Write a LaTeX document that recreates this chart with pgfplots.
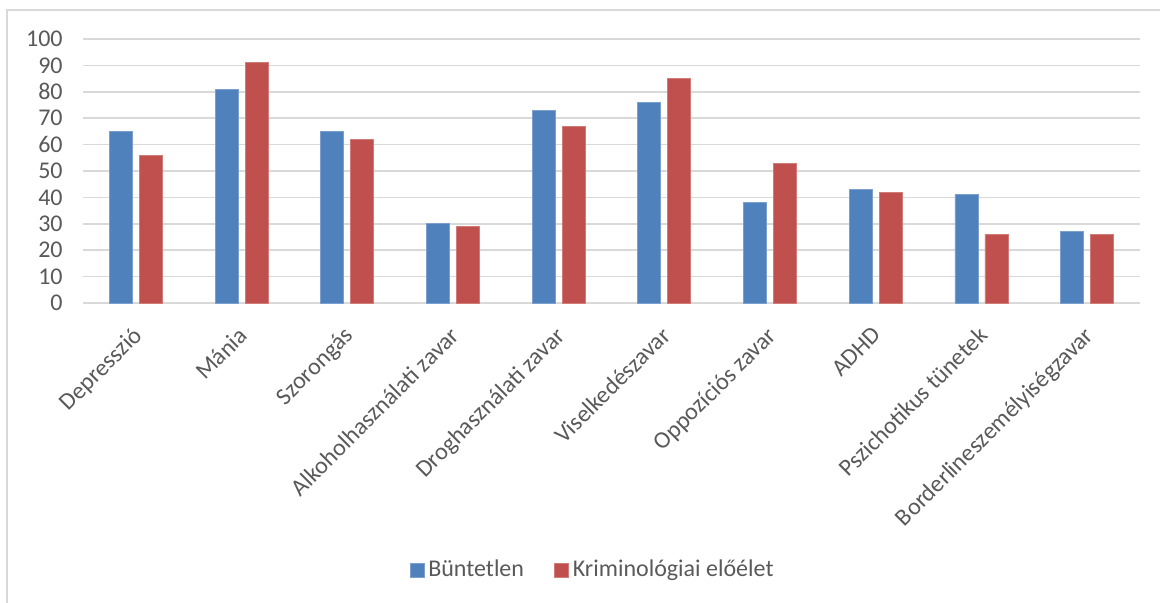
\documentclass[border=0pt]{standalone}
\usepackage{pgfplots}
\pgfplotsset{compat=1.18}
\usepackage{fontspec}
\setmainfont{Carlito}
\definecolor{serA}{HTML}{4F81BD}
\definecolor{serB}{HTML}{C0504D}
\definecolor{gridc}{HTML}{D9D9D9}
\definecolor{txt}{HTML}{595959}
\begin{document}
\begin{tikzpicture}
\fontsize{12}{14}\selectfont
\begin{axis}[
  at={(41.5pt,150pt)}, anchor=south west,
  scale only axis, width=528.5pt, height=132pt,
  ybar, bar width=11.5pt, ybar=3.5pt,
  xmin=-0.5, xmax=9.5, ymin=0, ymax=100,
  ytick={0,10,...,100},
  xtick=data,
  xticklabels={Depresszió,Mánia,Szorongás,Alkoholhasználati zavar,Droghasználati zavar,Viselkedészavar,Oppozíciós zavar,ADHD,Pszichotikus tünetek,Borderlineszemélyiségzavar},
  xticklabel style={rotate=45, anchor=north east, inner sep=0pt, xshift=-9.25pt, yshift=-6.25pt, text=txt, font=\fontsize{12}{14}\selectfont},
  yticklabel style={text=txt, font=\fontsize{12}{14}\selectfont, xshift=-6pt},
  /pgf/number format/assume math mode=true,
  major tick length=0pt,
  axis x line*=bottom, axis y line*=left,
  x axis line style={draw=gridc, line width=0.8pt},
  y axis line style={draw=none},
  ymajorgrids, grid style={draw=gridc, line width=0.8pt},
  legend columns=2,
  legend style={at={(0.483,-1.011)}, anchor=center, draw=none, fill=none,
    font=\fontsize{12}{14}\selectfont, text=txt,
    /tikz/every odd column/.append style={column sep=0pt},
    /tikz/every even column/.append style={column sep=13pt}},
  legend image code/.code={\fill[#1] (0pt,-3.5pt) rectangle (7pt,3.5pt);},
  clip=false,
]
\addplot[fill=serA, draw=serA!75!white, line width=0.4pt] coordinates
  {(0,65) (1,81) (2,65) (3,30) (4,73) (5,76) (6,38) (7,43) (8,41) (9,27)};
\addlegendentry{Büntetlen}
\addplot[fill=serB, draw=serB!75!white, line width=0.4pt] coordinates
  {(0,56) (1,91) (2,62) (3,29) (4,67) (5,85) (6,53) (7,42) (8,26) (9,26)};
\addlegendentry{Kriminológiai előélet}
\end{axis}
% chart area frame
\draw[gridc, line width=1pt] (3.5pt,-10pt) -- (3.5pt,296.5pt) -- (600pt,296.5pt);
\pgfresetboundingbox
\path[use as bounding box] (0,0) rectangle (580pt,301.5pt);
\end{tikzpicture}
\end{document}
